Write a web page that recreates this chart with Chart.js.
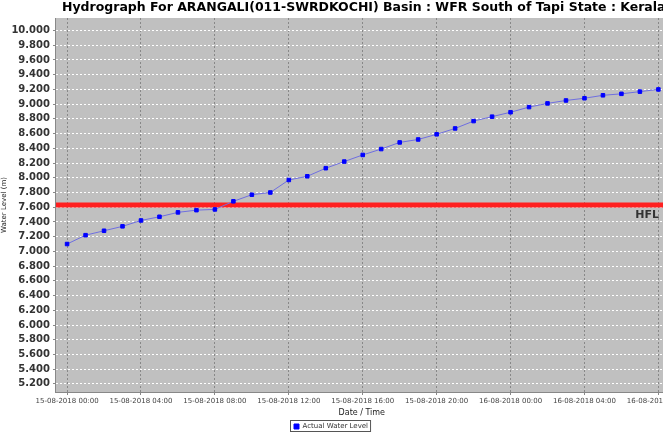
<!DOCTYPE html>
<html>
<head>
<meta charset="utf-8">
<script src="https://cdn.jsdelivr.net/npm/chart.js@4"></script>
<style>
  body { margin: 0; background: #fff; overflow: hidden; }
  #wrap { width: 692px; height: 442px; }
</style>
</head>
<body>
<div id="wrap"><canvas id="grafico"></canvas></div>
<script>
// horas desde 15-08-2018 00:00
const horas = [0,1,2,3,4,5,6,7,8,9,10,11,12,13,14,15,16,17,18,19,20,21,22,23,24,25,26,27,28,29,30,31,32];
const nivelAgua = [7.10,7.22,7.28,7.34,7.42,7.47,7.53,7.56,7.57,7.68,7.77,7.80,7.97,8.02,8.13,8.22,8.31,8.39,8.48,8.52,8.59,8.67,8.77,8.83,8.89,8.96,9.01,9.05,9.08,9.12,9.14,9.17,9.20];
const hfl = 7.63;
const etiquetasX = {0:'15-08-2018 00:00',4:'15-08-2018 04:00',8:'15-08-2018 08:00',12:'15-08-2018 12:00',16:'15-08-2018 16:00',20:'15-08-2018 20:00',24:'16-08-2018 00:00',28:'16-08-2018 04:00',32:'16-08-2018 08:00'};

const xMin = -0.6, xMax = 32.5;

const extras = {
  id: 'extras',
  beforeDraw(chart) {
    const a = chart.chartArea, ctx = chart.ctx;
    ctx.save();
    ctx.fillStyle = '#c0c0c0';
    ctx.fillRect(a.left, a.top, a.right - a.left, a.bottom - a.top);
    ctx.restore();
  },
  afterDraw(chart) {
    const ctx = chart.ctx, y = chart.scales.y;
    ctx.save();
    ctx.font = 'bold 11px "DejaVu Sans"';
    ctx.fillStyle = '#333';
    ctx.textAlign = 'right';
    ctx.fillText('HFL', 659, y.getPixelForValue(hfl) + 10);
    const b = chart.legend.legendHitBoxes[0];
    ctx.strokeStyle = '#555';
    ctx.lineWidth = 1;
    ctx.strokeRect(Math.round(b.left) - 3.5, Math.round(b.top) - 2.5, b.width + 6, b.height + 4);
    ctx.restore();
  }
};

new Chart(document.getElementById('grafico'), {
  type: 'line',
  data: {
    datasets: [
      {
        label: 'Actual Water Level',
        data: horas.map((h, i) => ({ x: h, y: nivelAgua[i] })),
        borderColor: '#6f6fe0',
        backgroundColor: '#0000ff',
        pointBackgroundColor: '#0000ff',
        pointBorderColor: '#0000ff',
        pointStyle: 'rect',
        pointRadius: 2.5,
        borderWidth: 1,
        tension: 0
      },
      {
        label: 'HFL',
        data: [{ x: xMin, y: hfl }, { x: xMax, y: hfl }],
        borderColor: '#ff2020',
        borderWidth: 5,
        pointRadius: 0
      }
    ]
  },
  options: {
    responsive: true,
    maintainAspectRatio: false,
    animation: false,
    layout: { padding: { left: 0, right: 0, top: 0, bottom: 2 } },
    plugins: {
      title: {
        display: true,
        align: 'start',
        text: 'Hydrograph For ARANGALI(011-SWRDKOCHI) Basin : WFR South of Tapi State : Kerala',
        font: { family: '"DejaVu Sans"', size: 12.5, weight: 'bold' },
        color: '#000',
        padding: { top: 0, bottom: 3 }
      },
      legend: {
        position: 'bottom',
        align: 'start',
        labels: {
          filter: item => item.text !== 'HFL',
          usePointStyle: true,
          pointStyle: 'rect',
          boxWidth: 5,
          boxHeight: 5,
          font: { family: '"DejaVu Sans"', size: 7 },
          color: '#333',
          padding: 4
        }
      },
      tooltip: { enabled: false }
    },
    scales: {
      x: {
        type: 'linear',
        min: xMin,
        max: xMax,
        afterBuildTicks: s => { s.ticks = Object.keys(etiquetasX).map(k => ({ value: Number(k) })); },
        ticks: {
          autoSkip: false,
          maxRotation: 0,
          callback: v => etiquetasX[v],
          font: { family: '"DejaVu Sans"', size: 7 },
          color: '#444',
          padding: 2
        },
        grid: { color: '#888', tickColor: '#888', tickLength: 3 },
        border: { color: '#888', dash: [2, 2] },
        title: { display: true, text: 'Date / Time', font: { family: '"DejaVu Sans"', size: 8 }, color: '#222', padding: 1 }
      },
      y: {
        min: 5.09,
        max: 10.17,
        afterBuildTicks: s => {
          const t = [];
          for (let v = 52; v <= 100; v += 2) t.push({ value: v / 10 });
          s.ticks = t;
        },
        ticks: {
          autoSkip: false,
          callback: v => v.toFixed(3),
          font: { family: '"DejaVu Sans"', size: 10, weight: 'bold' },
          color: '#333',
          padding: 3
        },
        grid: { color: '#ffffff', tickColor: '#888', tickLength: 3 },
        border: { color: '#888', dash: [2, 2] },
        title: { display: true, text: 'Water Level (m)', font: { family: '"DejaVu Sans"', size: 7 }, color: '#222', padding: 0 }
      }
    }
  },
  plugins: [extras, {
    id: 'posicion',
    afterFit() {},
    beforeLayout(chart) {
      // centrar título y leyenda sobre la parte visible (663px)
      chart.options.plugins.title.padding = { top: 0, bottom: 3 };
    },
    afterLayout(chart) {
      const t = chart.titleBlock, l = chart.legend;
      if (t) { t.left = 62; }
      if (l) { l.left = 290; l.legendHitBoxes.forEach(b => b.left = 298); }
    }
  }]
});
</script>
</body>
</html>
